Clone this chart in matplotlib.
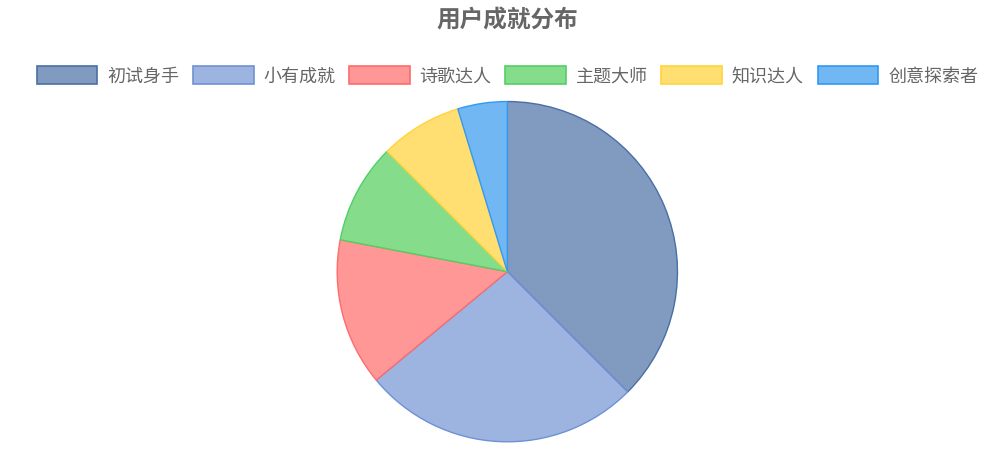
import matplotlib
matplotlib.use("Agg")
import matplotlib.pyplot as plt

plt.rcParams['font.family'] = ['Noto Sans CJK SC', 'DejaVu Sans']

# 成就分布 (percent)
labels = ['初试身手', '小有成就', '诗歌达人', '主题大师', '知识达人', '创意探索者']
values = [37.5, 26.5, 14.0, 9.5, 7.8, 4.7]

fill_colors = ['#809ac0', '#9db4e0', '#ff9797', '#85dd8c', '#ffdf72', '#70b7f4']
edge_colors = ['#4a6fa5', '#6e91d6', '#ff6b6b', '#51cf66', '#ffd43b', '#339af0']

fig = plt.figure(figsize=(9.99, 4.62), dpi=100)

# pie area
ax = fig.add_axes([0.3367, 0.041, 0.3423, 0.742])
wedges, _ = ax.pie(values, colors=fill_colors, startangle=90, counterclock=False,
                   radius=1, wedgeprops=dict(linewidth=1.0))
for w, ec in zip(wedges, edge_colors):
    w.set_edgecolor(ec)
ax.set_xlim(-1.005, 1.005)
ax.set_ylim(-1.005, 1.005)
ax.set_aspect('equal')
ax.axis('off')

fig.text(0.508, 1 - 21 / 462, '用户成就分布', ha='center', va='center',
         fontsize=17, fontweight='bold', color='#666666')

# legend
handles = [plt.Rectangle((0, 0), 1, 1, facecolor=fc, edgecolor=ec, linewidth=1.2)
           for fc, ec in zip(fill_colors, edge_colors)]
leg = fig.legend(handles, labels, loc='center', bbox_to_anchor=(0.508, 1 - 76 / 462),
                 ncol=6, frameon=False, fontsize=13, handlelength=3.35, handleheight=1.15,
                 handletextpad=0.55, columnspacing=0.76, borderaxespad=0)
for t in leg.get_texts():
    t.set_color('#666666')

fig.savefig('out.png', dpi=100)
